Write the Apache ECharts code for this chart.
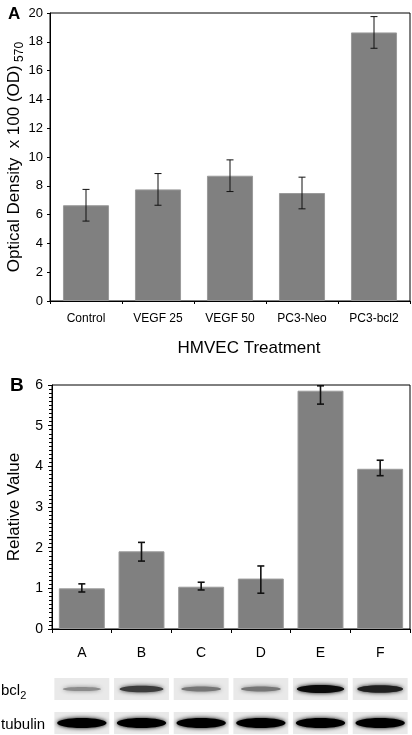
<!DOCTYPE html>
<html>
<head>
<meta charset="utf-8">
<script src="https://cdn.jsdelivr.net/npm/echarts@6/dist/echarts.min.js"></script>
<style>
html,body{margin:0;padding:0;background:#fff;}
#chart{width:412px;height:735px;}
</style>
</head>
<body>
<div id="chart"></div>
<script>
// Panel A data
const catsA = ['Control', 'VEGF 25', 'VEGF 50', 'PC3-Neo', 'PC3-bcl2'];
const valsA = [6.65, 7.75, 8.7, 7.5, 18.65];
const errA = [1.1, 1.1, 1.1, 1.1, 1.1];

// Panel B data
const catsB = ['A', 'B', 'C', 'D', 'E', 'F'];
const valsB = [1.0, 1.91, 1.04, 1.24, 5.86, 3.94];
const errLowB = [0.91, 1.67, 0.96, 0.88, 5.53, 3.77];
const errHighB = [1.11, 2.13, 1.15, 1.55, 5.98, 4.15];

// Western blot rows (relative band darkness, 0..1)
const blotRows = ['bcl2', 'tubulin'];
const bcl2Band = [0.35, 0.72, 0.45, 0.45, 0.95, 0.85];
const tubulinBand = [1, 1, 1, 1, 1, 1];

const FONT = '"Liberation Sans", Arial, Helvetica, sans-serif';

const errDataA = valsA.map((v, i) => [i, v - errA[i], v + errA[i]]);
const errDataB = valsB.map((v, i) => [i, errLowB[i], errHighB[i]]);
const blotData = [];
bcl2Band.forEach((d, i) => blotData.push([i, 0, d]));
tubulinBand.forEach((d, i) => blotData.push([i, 1, d]));

function errRender(lw, cap) {
  return function (params, api) {
    const x = api.value(0);
    const lo = api.coord([x, api.value(1)]);
    const hi = api.coord([x, api.value(2)]);
    const st = { stroke: '#111', lineWidth: lw };
    return {
      type: 'group',
      children: [
        { type: 'line', shape: { x1: lo[0], y1: lo[1], x2: hi[0], y2: hi[1] }, style: st },
        { type: 'line', shape: { x1: lo[0] - cap, y1: lo[1], x2: lo[0] + cap, y2: lo[1] }, style: st },
        { type: 'line', shape: { x1: hi[0] - cap, y1: hi[1], x2: hi[0] + cap, y2: hi[1] }, style: st }
      ]
    };
  };
}

function blotRender(params, api) {
  const lane = api.value(0), row = api.value(1), d = api.value(2);
  const c = api.coord([lane, row]);
  const w = api.size([1, 0])[0];
  const laneW = w * 0.92;
  const laneH = 22;
  const g = Math.round(215 * (1 - d));
  const col = 'rgb(' + g + ',' + g + ',' + g + ')';
  const isTub = row === 1;
  const rx = laneW * (isTub ? 0.45 : 0.3 + 0.14 * d);
  const ry = isTub ? 5 : 1 + 3.2 * d;
  return {
    type: 'group',
    children: [
      { type: 'rect', shape: { x: c[0] - laneW / 2, y: c[1] - laneH / 2, width: laneW, height: laneH },
        style: { fill: '#e9e9e9' } },
      { type: 'ellipse', shape: { cx: c[0], cy: c[1], rx: rx, ry: ry },
        style: { fill: col, shadowBlur: 4, shadowColor: col } }
    ]
  };
}

const chart = echarts.init(document.getElementById('chart'), null, { renderer: 'canvas' });
const axisLineStyle = { color: '#000', width: 1 };

const option = {
  animation: false,
  backgroundColor: '#fff',
  textStyle: { fontFamily: FONT },
  title: [
    { text: 'A', left: 3, top: 1, textStyle: { fontSize: 17, fontWeight: 'bold', color: '#000', fontFamily: FONT } },
    { text: 'B', left: 5, top: 371, textStyle: { fontSize: 19, fontWeight: 'bold', color: '#000', fontFamily: FONT } }
  ],
  grid: [
    { left: 50, right: 2, top: 13, height: 288, containLabel: false, outerBoundsMode: 'none',
      show: true, borderColor: '#000', borderWidth: 1, backgroundColor: 'transparent' },
    { left: 52, right: 2, top: 385, height: 244, containLabel: false, outerBoundsMode: 'none',
      show: true, borderColor: '#000', borderWidth: 1, backgroundColor: 'transparent' },
    { left: 52, right: 2, top: 672, height: 68, containLabel: false, outerBoundsMode: 'none' }
  ],
  xAxis: [
    { type: 'category', gridIndex: 0, data: catsA,
      axisLine: { lineStyle: axisLineStyle },
      axisTick: { show: true, length: 3, lineStyle: { color: '#000' } },
      axisLabel: { color: '#000', fontSize: 12, margin: 12, fontFamily: FONT },
      name: 'HMVEC Treatment', nameLocation: 'middle', nameGap: 39, nameMoveOverlap: false,
      nameTextStyle: { fontSize: 17, color: '#000', fontFamily: FONT, padding: [0, 0, 0, 38] } },
    { type: 'category', gridIndex: 1, data: catsB,
      axisLine: { lineStyle: axisLineStyle },
      axisTick: { show: true, length: 4, lineStyle: { color: '#000' } },
      axisLabel: { color: '#000', fontSize: 14, margin: 17, fontFamily: FONT } },
    { type: 'category', gridIndex: 2, data: catsB, show: false }
  ],
  yAxis: [
    { type: 'value', gridIndex: 0, min: 0, max: 20, interval: 2,
      axisLine: { show: true, lineStyle: axisLineStyle },
      axisTick: { show: true, length: 3, lineStyle: { color: '#000' } },
      splitLine: { show: false },
      axisLabel: { color: '#000', fontSize: 13, margin: 7, fontFamily: FONT },
      name: '{a|Optical Density  x 100 (OD)} {s|570}', nameLocation: 'middle', nameGap: 27, nameMoveOverlap: false,
      nameTextStyle: { color: '#000', fontFamily: FONT,
        rich: { a: { fontSize: 17, color: '#000', fontFamily: FONT, lineHeight: 20, verticalAlign: 'bottom' },
                s: { fontSize: 12, color: '#000', fontFamily: FONT, lineHeight: 20, verticalAlign: 'bottom', padding: [0, 0, -3, 0] } } } },
    { type: 'value', gridIndex: 1, min: 0, max: 6, interval: 1,
      axisLine: { show: true, lineStyle: axisLineStyle },
      axisTick: { show: true, length: 4, lineStyle: { color: '#000' } },
      minorTick: { show: true, splitNumber: 10, length: 3, lineStyle: { color: '#000' } },
      splitLine: { show: false },
      axisLabel: { color: '#000', fontSize: 14, margin: 9, fontFamily: FONT },
      name: 'Relative Value', nameLocation: 'middle', nameGap: 29, nameMoveOverlap: false,
      nameTextStyle: { fontSize: 17, color: '#000', fontFamily: FONT } },
    { type: 'category', gridIndex: 2, data: blotRows, inverse: true,
      axisLine: { show: false }, axisTick: { show: false }, splitLine: { show: false },
      axisLabel: { align: 'left', margin: 51, color: '#000', fontFamily: FONT,
        formatter: function (v) { return v === 'bcl2' ? '{a|bcl}{s|2}' : '{a|' + v + '}'; },
        rich: { a: { fontSize: 15, color: '#000', fontFamily: FONT, lineHeight: 18, verticalAlign: 'bottom' },
                s: { fontSize: 11, color: '#000', fontFamily: FONT, lineHeight: 18, verticalAlign: 'bottom', padding: [0, 0, -3, 0] } } } }
  ],
  series: [
    { type: 'bar', xAxisIndex: 0, yAxisIndex: 0, data: valsA, barWidth: '64%',
      itemStyle: { color: '#808080', borderColor: '#9a9a9a', borderWidth: 1 } },
    { type: 'custom', xAxisIndex: 0, yAxisIndex: 0, data: errDataA, renderItem: errRender(1, 3.5), z: 5 },
    { type: 'bar', xAxisIndex: 1, yAxisIndex: 1, data: valsB, barWidth: '77%',
      itemStyle: { color: '#808080', borderColor: '#9a9a9a', borderWidth: 1 } },
    { type: 'custom', xAxisIndex: 1, yAxisIndex: 1, data: errDataB, renderItem: errRender(1.6, 3.5), z: 5 },
    { type: 'custom', xAxisIndex: 2, yAxisIndex: 2, data: blotData, renderItem: blotRender }
  ]
};
chart.setOption(option);
</script>
</body>
</html>
